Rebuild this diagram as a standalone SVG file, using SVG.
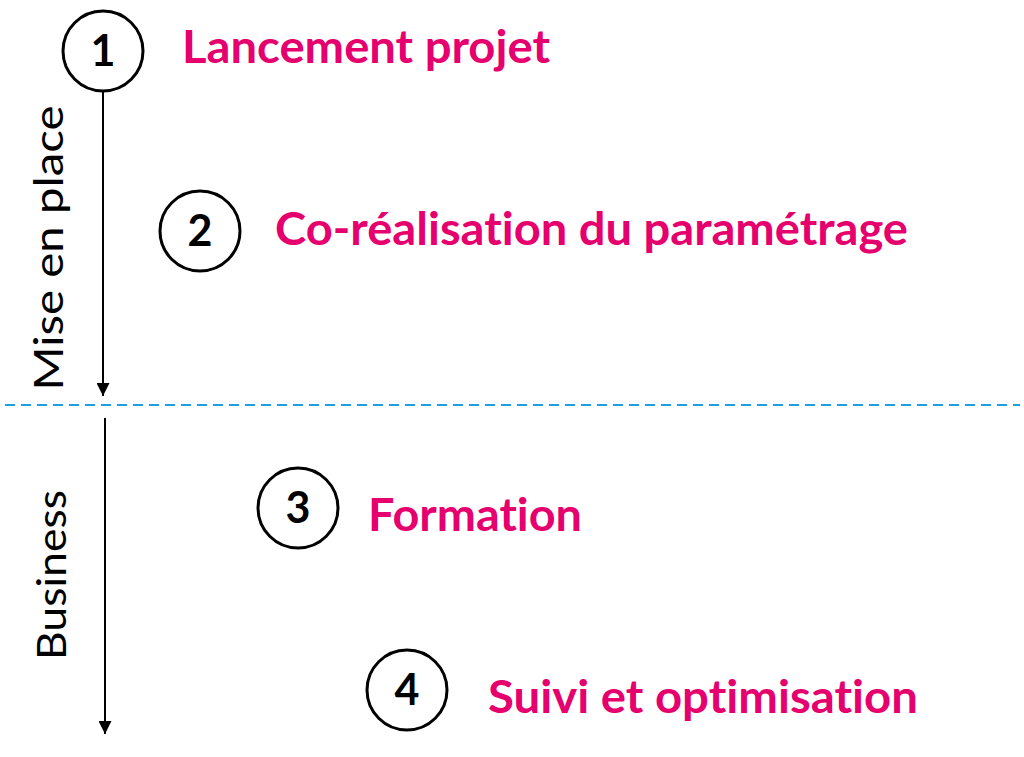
<svg xmlns="http://www.w3.org/2000/svg" width="1024" height="757" viewBox="0 0 1024 757">
<style>
text{font-variant-ligatures:none;font-feature-settings:"liga" 0,"clig" 0}
.step{fill:#e5006e;font-family:Lato,"Open Sans",sans-serif;font-weight:bold;font-size:45px}
.num{fill:#000;font-family:Lato,"Open Sans",sans-serif;font-weight:bold;font-size:43px;text-anchor:middle}
.side{fill:#000;font-family:Lato,"Open Sans",sans-serif;font-size:41px;text-anchor:middle}
circle{fill:#fff;stroke:#000;stroke-width:3}
</style>
<defs>
<marker id="ah" viewBox="0 0 10 10" refX="10" refY="5" markerWidth="7" markerHeight="6.5" orient="auto" markerUnits="strokeWidth">
<path d="M0,0 L10,5 L0,10 z" fill="#000"/>
</marker>
</defs>
<rect width="1024" height="757" fill="#fff"/>
<g id="connectors">
<line x1="103" y1="92" x2="103" y2="396" stroke="#000" stroke-width="2" marker-end="url(#ah)"/>
<line x1="105" y1="418" x2="105" y2="734" stroke="#000" stroke-width="2" marker-end="url(#ah)"/>
<line x1="5" y1="405" x2="1020" y2="405" stroke="#1ba1e2" stroke-width="2" stroke-dasharray="10 6"/>
</g>
<g id="label-mise">
<text class="side" transform="translate(63,248) rotate(-90)" textLength="285" lengthAdjust="spacingAndGlyphs">Mise en place</text>
</g>
<g id="label-business">
<text class="side" transform="translate(66,575) rotate(-90)" textLength="170" lengthAdjust="spacingAndGlyphs">Business</text>
</g>
<g id="step1">
<circle cx="103" cy="51" r="40"/>
<text class="num" x="103" y="66">1</text>
<text class="step" x="182" y="63" textLength="368" lengthAdjust="spacingAndGlyphs">Lancement projet</text>
</g>
<g id="step2">
<circle cx="200" cy="231" r="40"/>
<text class="num" x="200" y="246">2</text>
<text class="step" x="275" y="245" textLength="633" lengthAdjust="spacingAndGlyphs">Co-réalisation du paramétrage</text>
</g>
<g id="step3">
<circle cx="298" cy="508" r="40"/>
<text class="num" x="298" y="523">3</text>
<text class="step" x="368" y="531" textLength="214" lengthAdjust="spacingAndGlyphs">Formation</text>
</g>
<g id="step4">
<circle cx="407" cy="690" r="40"/>
<text class="num" x="407" y="705">4</text>
<text class="step" x="488" y="713" textLength="430" lengthAdjust="spacingAndGlyphs">Suivi et optimisation</text>
</g>
</svg>
